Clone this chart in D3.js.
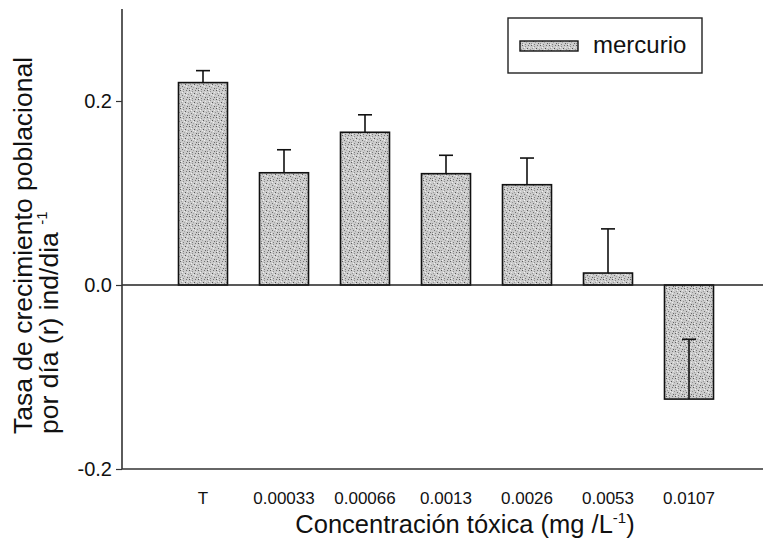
<!DOCTYPE html>
<html>
<head>
<meta charset="utf-8">
<script src="https://cdn.jsdelivr.net/npm/d3@7"></script>
<style>
  body { margin: 0; background: #fff; }
  svg { display: block; font-family: "Liberation Sans", Arial, sans-serif; }
</style>
</head>
<body>
<div id="chart"></div>
<script>
// data
const categories = ["T", "0.00033", "0.00066", "0.0013", "0.0026", "0.0053", "0.0107"];
const rates = [0.220, 0.122, 0.166, 0.121, 0.109, 0.013, -0.124];
const errors = [0.013, 0.025, 0.019, 0.020, 0.029, 0.048, 0.065];
const yTicks = [-0.2, 0.0, 0.2];
const seriesName = "mercurio";

const width = 763, height = 545;
const plot = { left: 122, right: 770, top: 9, bottom: 469 };

const svg = d3.select("#chart").append("svg")
    .attr("width", width)
    .attr("height", height);

/*
 *  Stipple texture for the bars (fixed dot layout, just styling).
 */
const defs = svg.append("defs");
const pat = defs.append("pattern")
    .attr("id", "stipple")
    .attr("patternUnits", "userSpaceOnUse")
    .attr("width", 9)
    .attr("height", 9);
pat.append("rect").attr("width", 9).attr("height", 9).attr("fill", "#cbcbcb");
const dots = [[0,0,"#5a5a5a"],[3,1,"#8e8e8e"],[6,0,"#747474"],[1,3,"#9a9a9a"],[5,3,"#555"],[8,4,"#949494"],
              [2,5,"#6e6e6e"],[4,6,"#a4a4a4"],[7,7,"#626262"],[0,7,"#8c8c8c"],[3,8,"#7e7e7e"],[6,5,"#eeeeee"],
              [2,2,"#f0f0f0"],[7,2,"#e6e6e6"],[4,4,"#eaeaea"],[1,8,"#efefef"]];
dots.forEach(d => {
    pat.append("rect").attr("x", d[0]).attr("y", d[1]).attr("width", 1).attr("height", 1).attr("fill", d[2]);
});

const x = d3.scalePoint()
    .domain(categories)
    .range([plot.left, plot.right])
    .padding(1);

const y = d3.scaleLinear()
    .domain([-0.2, 0.3])
    .range([plot.bottom, plot.top]);

const barW = 49;
const capW = 14;

// bars
svg.append("g").selectAll("rect")
    .data(categories)
    .join("rect")
    .attr("x", d => x(d) - barW / 2)
    .attr("y", (d, i) => y(Math.max(0, rates[i])))
    .attr("width", barW)
    .attr("height", (d, i) => Math.abs(y(rates[i]) - y(0)))
    .attr("fill", "url(#stipple)")
    .attr("stroke", "#111")
    .attr("stroke-width", 1.6);

// error bars (drawn upward from the bar end)
const eb = svg.append("g").attr("stroke", "#111").attr("stroke-width", 1.6);
categories.forEach((c, i) => {
    eb.append("line")
        .attr("x1", x(c)).attr("x2", x(c))
        .attr("y1", y(rates[i])).attr("y2", y(rates[i] + errors[i]));
    eb.append("line")
        .attr("x1", x(c) - capW / 2).attr("x2", x(c) + capW / 2)
        .attr("y1", y(rates[i] + errors[i])).attr("y2", y(rates[i] + errors[i]));
});

// zero line and bottom frame line
svg.append("line")
    .attr("x1", plot.left).attr("x2", width)
    .attr("y1", y(0)).attr("y2", y(0))
    .attr("stroke", "#222").attr("stroke-width", 1.4);
svg.append("line")
    .attr("x1", plot.left).attr("x2", width)
    .attr("y1", y(-0.2)).attr("y2", y(-0.2))
    .attr("stroke", "#333").attr("stroke-width", 1.6);

// y axis
const yAxis = svg.append("g")
    .attr("transform", "translate(" + plot.left + ",0)")
    .call(d3.axisLeft(y).tickValues(yTicks)
        .tickFormat(d => d3.format(".1f")(d).replace("\u2212", "-"))
        .tickSize(6).tickPadding(4));
yAxis.attr("font-size", null).attr("font-family", null);
yAxis.select(".domain").attr("stroke", "#333").attr("stroke-width", 1.6).attr("d", "M0," + plot.top + "V" + plot.bottom);
yAxis.selectAll(".tick line").attr("stroke", "#333").attr("stroke-width", 1.2);
yAxis.selectAll(".tick text")
    .style("font-size", "20px")
    .attr("fill", "#111");

// x tick labels (no tick marks)
svg.append("g").selectAll("text")
    .data(categories)
    .join("text")
    .attr("x", d => x(d))
    .attr("y", 504)
    .attr("text-anchor", "middle")
    .style("font-size", "17px")
    .attr("fill", "#111")
    .text(d => d);

// axis titles
const xt = svg.append("text")
    .attr("x", 465)
    .attr("y", 533)
    .attr("text-anchor", "middle")
    .style("font-size", "25.5px")
    .attr("fill", "#111");
xt.append("tspan").text("Concentración tóxica (mg /L");
xt.append("tspan").style("font-size", "15px").attr("dy", -10).text("-1");
xt.append("tspan").attr("dy", 10).text(")");

const yt = svg.append("g").attr("transform", "translate(0,434) rotate(-90)");
yt.append("text")
    .attr("x", 0).attr("y", 32)
    .style("font-size", "26.5px")
    .attr("fill", "#111")
    .text("Tasa de crecimiento poblacional");
const yt2 = yt.append("text")
    .attr("x", 0).attr("y", 58)
    .style("font-size", "26.5px")
    .attr("fill", "#111");
yt2.append("tspan").text("por día (r) ind/dia ");
yt2.append("tspan").style("font-size", "15px").attr("dy", -11).text("-1");

// legend
const lg = svg.append("g");
lg.append("rect")
    .attr("x", 508).attr("y", 18).attr("width", 194).attr("height", 55)
    .attr("fill", "#fff").attr("stroke", "#222").attr("stroke-width", 1.4);
lg.append("rect")
    .attr("x", 520).attr("y", 41).attr("width", 58).attr("height", 10)
    .attr("fill", "url(#stipple)").attr("stroke", "#111").attr("stroke-width", 1.4);
lg.append("text")
    .attr("x", 593).attr("y", 53)
    .style("font-size", "24px")
    .attr("fill", "#111")
    .text(seriesName);
</script>
</body>
</html>
